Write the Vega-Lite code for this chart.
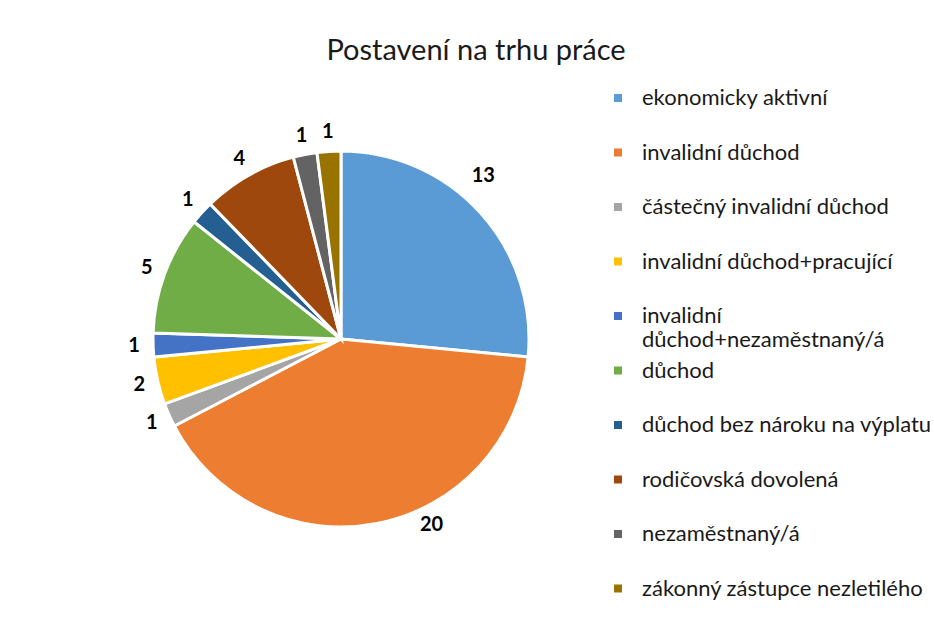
{
  "$schema": "https://vega.github.io/schema/vega-lite/v6.json",
  "width": 666,
  "height": 560,
  "padding": {"left": 8, "top": 37, "right": 0, "bottom": 0},
  "background": "white",
  "title": {"text": "Postavení na trhu práce", "font": "Lato", "fontSize": 29, "fontWeight": "normal", "color": "#1a1a1a", "anchor": "middle", "dx": 135, "offset": -7},
  "config": {"view": {"stroke": null}},
  "data": {"values": [
    {"i": 1, "kategorie": "ekonomicky aktivní", "pocet": 13},
    {"i": 2, "kategorie": "invalidní důchod", "pocet": 20},
    {"i": 3, "kategorie": "částečný invalidní důchod", "pocet": 1},
    {"i": 4, "kategorie": "invalidní důchod+pracující", "pocet": 2},
    {"i": 5, "kategorie": "invalidní důchod+nezaměstnaný/á", "pocet": 1},
    {"i": 6, "kategorie": "důchod", "pocet": 5},
    {"i": 7, "kategorie": "důchod bez nároku na výplatu", "pocet": 1},
    {"i": 8, "kategorie": "rodičovská dovolená", "pocet": 4},
    {"i": 9, "kategorie": "nezaměstnaný/á", "pocet": 1},
    {"i": 10, "kategorie": "zákonný zástupce nezletilého", "pocet": 1}
  ]},
  "encoding": {
    "theta": {"field": "pocet", "type": "quantitative", "stack": true},
    "order": {"field": "i", "type": "quantitative"}
  },
  "layer": [
    {
      "mark": {"type": "arc", "outerRadius": 188, "stroke": "white", "strokeWidth": 3},
      "encoding": {
        "color": {
          "field": "kategorie", "type": "nominal",
          "scale": {
            "domain": ["ekonomicky aktivní", "invalidní důchod", "částečný invalidní důchod", "invalidní důchod+pracující", "invalidní důchod+nezaměstnaný/á", "důchod", "důchod bez nároku na výplatu", "rodičovská dovolená", "nezaměstnaný/á", "zákonný zástupce nezletilého"],
            "range": ["#5B9BD5", "#ED7D31", "#A5A5A5", "#FFC000", "#4472C4", "#70AD47", "#255E91", "#9E480E", "#636363", "#997300"]
          },
          "legend": {
            "orient": "none", "legendX": 599, "legendY": 28,
            "title": null, "symbolType": "square", "symbolSize": 64, "symbolStrokeWidth": 0,
            "labelFont": "Lato", "labelFontSize": 22, "labelColor": "#1a1a1a", "labelLimit": 500,
            "labelExpr": "datum.label == 'invalidní důchod+nezaměstnaný/á' ? ['invalidní', 'důchod+nezaměstnaný/á'] : datum.label",
            "gridAlign": "all",
            "rowPadding": 8.5, "labelOffset": 13
          }
        }
      }
    },
    {
      "mark": {"type": "text", "radius": 207, "font": "Lato", "fontSize": 20, "fontWeight": "bold", "color": "#000000"},
      "encoding": {"text": {"condition": {"test": "datum.i > 2", "field": "pocet", "type": "quantitative"}, "value": ""}}
    },
    {
      "mark": {"type": "text", "radius": 207, "dx": -11, "dy": -24, "font": "Lato", "fontSize": 20, "fontWeight": "bold", "color": "#000000"},
      "encoding": {"text": {"condition": {"test": "datum.i == 1", "field": "pocet", "type": "quantitative"}, "value": ""}}
    },
    {
      "mark": {"type": "text", "radius": 207, "dx": 51, "dy": -17, "font": "Lato", "fontSize": 20, "fontWeight": "bold", "color": "#000000"},
      "encoding": {"text": {"condition": {"test": "datum.i == 2", "field": "pocet", "type": "quantitative"}, "value": ""}}
    }
  ]
}
